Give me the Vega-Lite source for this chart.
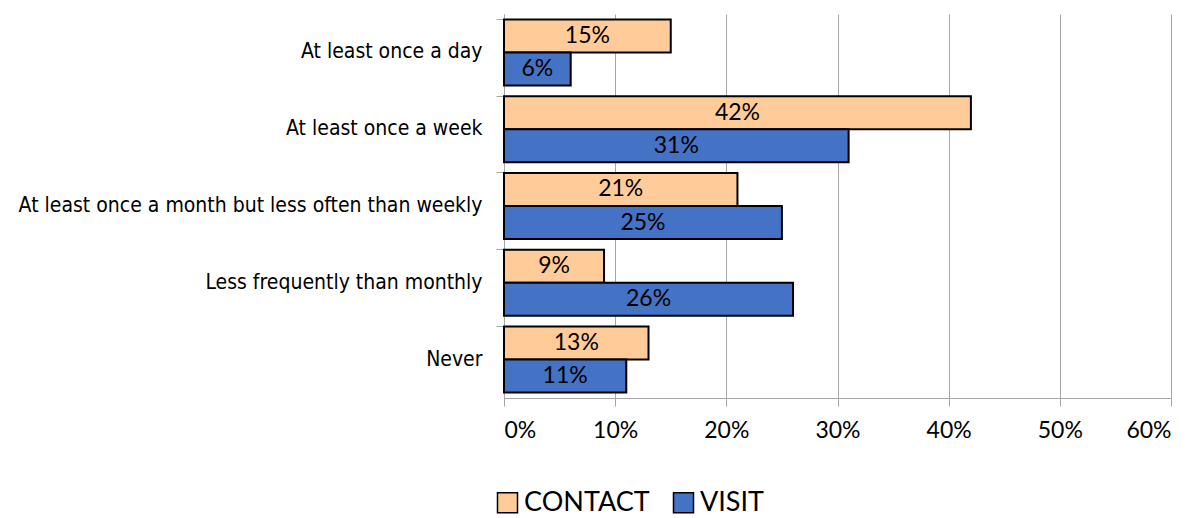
{
  "$schema": "https://vega.github.io/schema/vega-lite/v6.json",
  "autosize": "none",
  "width": 667,
  "height": 384,
  "padding": {"left": 504, "top": 14, "right": 26, "bottom": 120},
  "background": "white",
  "data": {
    "values": [
      {"freq": "At least once a day", "series": "CONTACT", "value": 0.15, "label": "15%"},
      {"freq": "At least once a day", "series": "VISIT", "value": 0.06, "label": "6%"},
      {"freq": "At least once a week", "series": "CONTACT", "value": 0.42, "label": "42%"},
      {"freq": "At least once a week", "series": "VISIT", "value": 0.31, "label": "31%"},
      {"freq": "At least once a month but less often than weekly", "series": "CONTACT", "value": 0.21, "label": "21%"},
      {"freq": "At least once a month but less often than weekly", "series": "VISIT", "value": 0.25, "label": "25%"},
      {"freq": "Less frequently than monthly", "series": "CONTACT", "value": 0.09, "label": "9%"},
      {"freq": "Less frequently than monthly", "series": "VISIT", "value": 0.26, "label": "26%"},
      {"freq": "Never", "series": "CONTACT", "value": 0.13, "label": "13%"},
      {"freq": "Never", "series": "VISIT", "value": 0.11, "label": "11%"}
    ]
  },
  "encoding": {
    "y": {
      "field": "freq", "type": "nominal", "sort": null,
      "scale": {"paddingInner": 0.14, "paddingOuter": 0.07},
      "axis": {
        "title": null, "bandPosition": 0, "domainColor": "#A6A6A6", "tickColor": "#A6A6A6",
        "tickSize": 8, "labelFont": "DejaVu Sans Condensed, sans-serif", "labelFontSize": 21,
        "labelColor": "#000000", "labelPadding": 14, "labelLimit": 520, "grid": false
      }
    },
    "yOffset": {"field": "series", "type": "nominal", "sort": ["CONTACT", "VISIT"], "scale": {"paddingInner": 0, "paddingOuter": 0}}
  },
  "layer": [
    {
      "mark": {"type": "bar", "stroke": "#000000", "strokeWidth": 2},
      "encoding": {
        "x": {
          "field": "value", "type": "quantitative",
          "scale": {"domain": [0, 0.6], "nice": false},
          "axis": {
            "title": null, "format": ".0%", "values": [0, 0.1, 0.2, 0.3, 0.4, 0.5, 0.6],
            "grid": true, "gridColor": "#A6A6A6", "gridWidth": 1, "labelOverlap": false,
            "domainColor": "#A6A6A6", "tickColor": "#A6A6A6", "tickSize": 8,
            "labelFont": "Lato", "labelFontSize": 23, "labelColor": "#000000", "labelPadding": 13
          }
        },
        "color": {
          "field": "series", "type": "nominal", "sort": ["CONTACT", "VISIT"],
          "scale": {"domain": ["CONTACT", "VISIT"], "range": ["#FFCC99", "#4472C4"]},
          "legend": {
            "title": null, "orient": "none", "direction": "horizontal",
            "legendX": -10, "legendY": 475, "symbolType": "square", "symbolSize": 400,
            "symbolStrokeColor": "#000000", "symbolStrokeWidth": 1.5,
            "labelFont": "Lato", "labelFontSize": 27, "labelColor": "#000000", "labelLimit": 300,
            "columnPadding": 20, "labelOffset": 3
          }
        }
      }
    },
    {
      "mark": {"type": "text", "font": "Lato", "fontSize": 23, "color": "#000000", "align": "center", "baseline": "middle"},
      "encoding": {
        "x": {"field": "value", "type": "quantitative", "scale": {"domain": [0, 1.2], "nice": false}, "axis": null},
        "text": {"field": "label"}
      }
    }
  ],
  "resolve": {"scale": {"x": "independent"}},
  "config": {"view": {"stroke": null}}
}
